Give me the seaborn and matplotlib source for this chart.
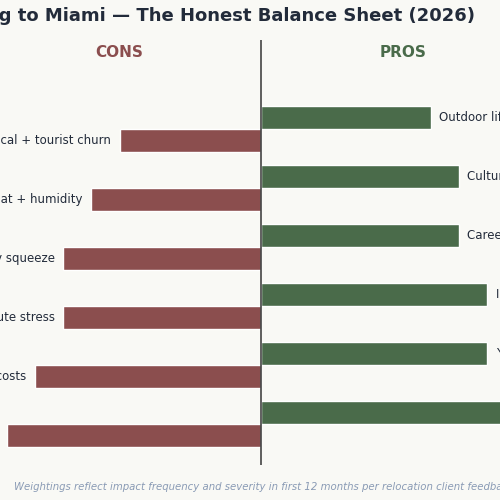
import matplotlib
matplotlib.use("Agg")
import matplotlib.pyplot as plt
import seaborn as sns
import numpy as np

cons_labels = ["Seasonal political + tourist churn", "Summer heat + humidity",
               "Housing affordability squeeze", "Traffic + commute stress",
               "Hurricane + insurance costs", "Cost of living"]
cons_values = [5, 6, 7, 7, 8, 9]
pros_labels = ["Outdoor lifestyle", "Culture + food scene", "Career growth",
               "International hub", "Year-round sun", "No state income tax"]
pros_values = [6, 7, 7, 8, 8, 9]

BG = "#f9f9f5"
CON = "#8b4e4e"
PRO = "#4a6b4a"
INK = "#222b3a"

sns.set_theme(style="white")
plt.rcParams["font.family"] = ["DejaVu Sans"]

fig = plt.figure(figsize=(5, 5), dpi=100)
fig.patch.set_facecolor(BG)
# axes deliberately wider than the canvas (matches cropped reference)
ax = fig.add_axes([-0.1, 0.07, 1.244, 0.85])
ax.set_facecolor(BG)

rows = np.arange(len(cons_values))
cons_y = rows + 0.195
pros_y = rows - 0.195

sns.barplot(x=[-v for v in cons_values], y=cons_y, orient="h", native_scale=True,
            color=CON, width=0.4, saturation=1, ax=ax)
sns.barplot(x=pros_values, y=pros_y, orient="h", native_scale=True,
            color=PRO, width=0.4, saturation=1, ax=ax)

ax.set_xlim(-11, 11)
ax.set_ylim(5.695, -1.505)
ax.axvline(0, color="#444444", lw=1.2)

for y, v, lab in zip(cons_y, cons_values, cons_labels):
    ax.text(-v - 0.3, y, lab, ha="right", va="center", fontsize=8.5, color=INK)
for y, v, lab in zip(pros_y, pros_values, pros_labels):
    ax.text(v + 0.3, y, lab, ha="left", va="center", fontsize=8.5, color=INK)

ax.set_xticks([])
ax.set_yticks([])
ax.set_xlabel("")
ax.set_ylabel("")
for s in ax.spines.values():
    s.set_visible(False)

fig.text(0.95, 0.968, "Moving to Miami — The Honest Balance Sheet (2026)",
         ha="right", va="center", fontsize=13, fontweight="bold", color=INK)
fig.text(0.238, 0.895, "CONS", ha="center", va="center", fontsize=11,
         fontweight="bold", color=CON)
fig.text(0.806, 0.895, "PROS", ha="center", va="center", fontsize=11,
         fontweight="bold", color=PRO)
fig.text(0.028, 0.026, "Weightings reflect impact frequency and severity in first 12 months "
         "per relocation client feedback", ha="left", va="center", fontsize=7.3,
         style="italic", color="#8a9bb5")

fig.savefig("out.png", dpi=100, facecolor=BG)
